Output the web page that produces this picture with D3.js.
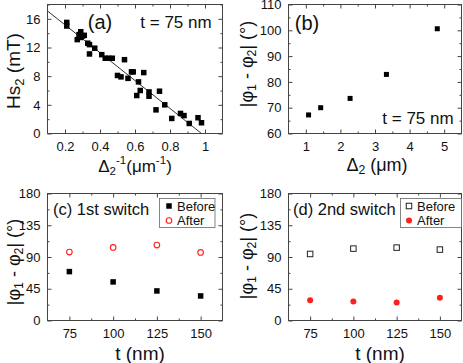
<!DOCTYPE html>
<html lang="en">
<head>
  <meta charset="UTF-8" />
  <title>Switching angle panels</title>
  <script src="https://d3js.org/d3.v7.min.js"></script>
  <style>
    body { margin: 0; background: #fff; }
    svg { font-family: Arial, "Liberation Sans", sans-serif; }
    .tick text { font-size: 13px; fill: #111; }
    .tick line { stroke: #444; }
    .frame { fill: none; stroke: #444; stroke-width: 1; }
  </style>
</head>
<body>
  <script>
    // (a) Hs2 against inverse spacing, t = 75 nm
    const invSpacing = [0.21, 0.21, 0.27, 0.28, 0.29, 0.29, 0.30, 0.31, 0.33, 0.34, 0.34, 0.37, 0.41, 0.43,
      0.45, 0.47, 0.50, 0.52, 0.54, 0.56, 0.58, 0.59, 0.61, 0.62, 0.63, 0.65, 0.68, 0.68, 0.72, 0.74,
      0.77, 0.81, 0.86, 0.88, 0.91, 0.96, 0.98];
    const hs2 = [15.5, 15.0, 13.1, 13.8, 14.2, 13.4, 13.6, 13.7, 12.6, 12.4, 11.1, 11.9, 11.0, 10.5,
      10.5, 10.5, 8.1, 7.9, 10.3, 7.7, 8.6, 8.6, 5.3, 7.2, 6.0, 8.5, 5.8, 5.2, 3.3, 5.9,
      4.0, 2.1, 2.8, 2.5, 1.4, 2.2, 1.5];
    // straight fit drawn through (a)
    const fitX = [0.1, 0.98];
    const fitY = [17.1, 0];

    // (b) angle difference against spacing
    const spacing = [1.08, 1.43, 2.28, 3.33, 4.8];
    const phiDiff = [67.2, 70.0, 73.6, 82.9, 100.6];

    // (c) and (d) against thickness
    const thickness = [75, 100, 125, 150];
    const firstBefore = [69.3, 54.7, 41.9, 34.8];
    const firstAfter = [97.0, 103.6, 106.9, 96.5];
    const secondBefore = [94.3, 101.9, 103.3, 100.5];
    const secondAfter = [28.7, 26.9, 25.5, 32.2];

    const width = 463, height = 363;
    const red = "#ff1f1f";

    const svg = d3.select("body").append("svg")
      .attr("width", width)
      .attr("height", height);

    // Text with sub / superscripts. parts: [{t, sub, sup}]
    function rich(text, parts, size) {
      let shift = 0;
      parts.forEach(p => {
        const off = p.sub ? size * 0.3 : p.sup ? -size * 0.35 : 0;
        text.append("tspan")
          .attr("dy", off - shift)
          .style("font-size", (p.sub || p.sup ? size * 0.68 : size) + "px")
          .text(p.t);
        shift = off;
      });
      return text;
    }

    function range(a, b, step) {
      const out = [];
      for (let v = a; v <= b + 1e-9; v += step) out.push(+v.toFixed(4));
      return out;
    }

    // Builds one framed panel with inward ticks on all four sides.
    function panel(box, xDomain, yDomain, xMajor, xMinor, yMajor, yMinor) {
      const x = d3.scaleLinear().domain(xDomain).range([box.l, box.r]);
      const y = d3.scaleLinear().domain(yDomain).range([box.b, box.t]);
      const g = svg.append("g");

      const addAxis = (axis, transform, vals, size, fmt, pad) => {
        const a = g.append("g")
          .attr("transform", transform)
          .call(axis.tickValues(vals).tickSizeInner(-size).tickSizeOuter(0)
            .tickPadding(pad || 0).tickFormat(fmt || ""));
        a.select(".domain").remove();
        return a;
      };

      const fmt = d3.format("~g");
      addAxis(d3.axisBottom(x), `translate(0,${box.b})`, xMajor, 4, fmt, 8);
      addAxis(d3.axisBottom(x), `translate(0,${box.b})`, xMinor, 2);
      addAxis(d3.axisTop(x), `translate(0,${box.t})`, xMajor, 4);
      addAxis(d3.axisTop(x), `translate(0,${box.t})`, xMinor, 2);
      addAxis(d3.axisLeft(y), `translate(${box.l},0)`, yMajor, 4, fmt, 7);
      addAxis(d3.axisLeft(y), `translate(${box.l},0)`, yMinor, 2);
      addAxis(d3.axisRight(y), `translate(${box.r},0)`, yMajor, 4);
      addAxis(d3.axisRight(y), `translate(${box.r},0)`, yMinor, 2);

      g.append("rect").attr("class", "frame")
        .attr("x", box.l).attr("y", box.t)
        .attr("width", box.r - box.l).attr("height", box.b - box.t);
      return { g, x, y };
    }

    function squares(p, xs, ys, size, filled) {
      p.g.selectAll(null).data(xs).enter().append("rect")
        .attr("x", d => p.x(d) - size / 2)
        .attr("y", (d, i) => p.y(ys[i]) - size / 2)
        .attr("width", size).attr("height", size)
        .attr("fill", filled ? "#000" : "none")
        .attr("stroke", filled ? "none" : "#222")
        .attr("stroke-width", 1);
    }

    function circles(p, xs, ys, r, filled) {
      p.g.selectAll(null).data(xs).enter().append("circle")
        .attr("cx", d => p.x(d))
        .attr("cy", (d, i) => p.y(ys[i]))
        .attr("r", r)
        .attr("fill", filled ? red : "none")
        .attr("stroke", filled ? "none" : red)
        .attr("stroke-width", 1.1);
    }

    function label(x, y, str, size, anchor) {
      return svg.append("text")
        .attr("x", x).attr("y", y)
        .attr("text-anchor", anchor || "start")
        .attr("dominant-baseline", "central")
        .style("font-size", size + "px")
        .attr("fill", "#111")
        .text(str);
    }

    function yTitle(cx, cy, parts, size) {
      const t = svg.append("text")
        .attr("transform", `translate(${cx},${cy}) rotate(-90)`)
        .attr("text-anchor", "middle")
        .attr("dominant-baseline", "central")
        .attr("fill", "#111");
      rich(t, parts, size);
    }

    function xTitle(cx, cy, parts, size) {
      const t = svg.append("text")
        .attr("x", cx).attr("y", cy)
        .attr("text-anchor", "middle")
        .attr("dominant-baseline", "central")
        .attr("fill", "#111");
      rich(t, parts, size);
    }

    const phiParts = [{ t: "|φ" }, { t: "1", sub: true }, { t: " - φ" }, { t: "2", sub: true }, { t: "| (°)" }];

    // ---- (a)
    const pa = panel({ l: 47.5, r: 222.5, t: 4.5, b: 133.5 }, [0.1, 1.1], [0, 18],
      [0.2, 0.4, 0.6, 0.8, 1], range(0.3, 0.9, 0.2), range(0, 16, 4), range(2, 18, 4));
    pa.g.append("path")
      .attr("d", d3.line()(fitX.map((v, i) => [pa.x(v), pa.y(fitY[i])])))
      .attr("stroke", "#333").attr("stroke-width", 1).attr("fill", "none");
    squares(pa, invSpacing, hs2, 5.5, true);
    label(100, 22, "(a)", 20, "middle");
    label(176, 22, "t = 75 nm", 17, "middle");
    yTitle(13, 71, [{ t: "Hs" }, { t: "2", sub: true }, { t: " (mT)" }], 19);
    xTitle(135, 166, [{ t: "Δ" }, { t: "2", sub: true }, { t: "-1", sup: true }, { t: "(μm" }, { t: "-1", sup: true }, { t: ")" }], 17);

    // ---- (b)
    const pb = panel({ l: 288.5, r: 461.5, t: 4.5, b: 133.5 }, [0.5, 5.5], [60, 110],
      [1, 2, 3, 4, 5], range(1.5, 4.5, 1), range(60, 110, 10), range(65, 105, 10));
    squares(pb, spacing, phiDiff, 5, true);
    label(307, 23, "(b)", 20, "middle");
    label(418, 118, "t = 75 nm", 17, "middle");
    yTitle(247, 64, phiParts, 18);
    xTitle(377, 165, [{ t: "Δ" }, { t: "2", sub: true }, { t: " (μm)" }], 18);

    // ---- (c)
    const pc = panel({ l: 47.5, r: 222.5, t: 193.5, b: 320.5 }, [62.5, 162.5], [0, 180],
      [75, 100, 125, 150], [87.5, 112.5, 137.5], range(0, 180, 45), range(22.5, 157.5, 45));
    squares(pc, thickness, firstBefore, 5.5, true);
    circles(pc, thickness, firstAfter, 2.8, false);
    label(53, 209, "(c) 1st switch", 16.5, "start");
    yTitle(14, 262, phiParts, 18);
    xTitle(140, 353, [{ t: "t (nm)" }], 19);

    // ---- (d)
    const pd = panel({ l: 288.5, r: 461.5, t: 193.5, b: 320.5 }, [62.5, 162.5], [0, 180],
      [75, 100, 125, 150], [87.5, 112.5, 137.5], range(0, 180, 45), range(22.5, 157.5, 45));
    squares(pd, thickness, secondBefore, 5.5, false);
    circles(pd, thickness, secondAfter, 3, true);
    label(293, 209, "(d) 2nd switch", 16.5, "start");
    yTitle(247, 256, phiParts, 18);
    xTitle(380, 353, [{ t: "t (nm)" }], 19);

    // Legends
    function legend(cx, entries, boxL, boxR) {
      svg.append("rect")
        .attr("x", boxL).attr("y", 198.5).attr("width", boxR - boxL).attr("height", 29)
        .attr("fill", "#fff").attr("stroke", "#666").attr("stroke-width", 0.8);
      entries.forEach((e, i) => {
        const yy = 206 + i * 14.5;
        if (e.shape === "square") {
          svg.append("rect").attr("x", cx - 2.75).attr("y", yy - 2.75).attr("width", 5.5).attr("height", 5.5)
            .attr("fill", e.filled ? "#000" : "none").attr("stroke", e.filled ? "none" : "#222");
        } else {
          svg.append("circle").attr("cx", cx).attr("cy", yy).attr("r", e.filled ? 3 : 2.8)
            .attr("fill", e.filled ? red : "none").attr("stroke", e.filled ? "none" : red).attr("stroke-width", 1.1);
        }
        label(cx + 8, yy, e.name, 13, "start");
      });
    }
    legend(169, [{ name: "Before", shape: "square", filled: true }, { name: "After", shape: "circle", filled: false }], 159.5, 215);
    legend(409, [{ name: "Before", shape: "square", filled: false }, { name: "After", shape: "circle", filled: true }], 400.5, 461.5);
  </script>
</body>
</html>
